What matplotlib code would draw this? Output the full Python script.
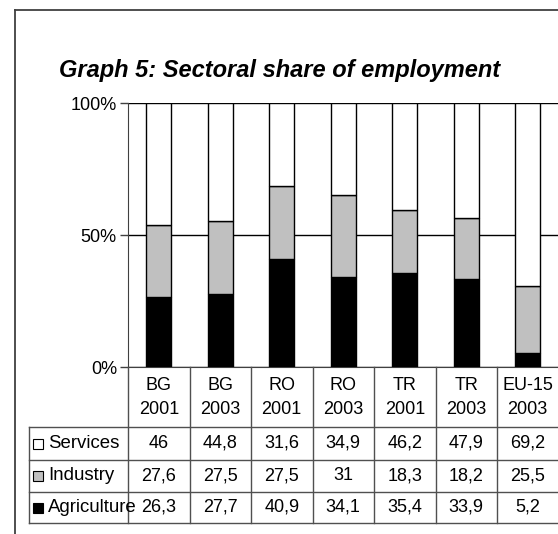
import matplotlib.pyplot as plt
import numpy as np
from matplotlib.patches import Rectangle
from matplotlib.lines import Line2D
from matplotlib.transforms import blended_transform_factory

plt.rcParams['font.family'] = ['Liberation Sans', 'DejaVu Sans']

# data table values
countries = ['BG', 'BG', 'RO', 'RO', 'TR', 'TR', 'EU-15']
years = ['2001', '2003', '2001', '2003', '2001', '2003', '2003']
series = ['Services', 'Industry', 'Agriculture']
services = [46, 44.8, 31.6, 34.9, 46.2, 47.9, 69.2]
industry = [27.6, 27.5, 27.5, 31, 18.3, 18.2, 25.5]
agriculture = [26.3, 27.7, 40.9, 34.1, 35.4, 33.9, 5.2]
# bar heights as drawn (TR bars differ from the table in the original)
bar_agriculture = [26.3, 27.7, 40.9, 34.1, 35.7, 33.2, 5.2]
bar_industry = [27.6, 27.5, 27.5, 31, 23.8, 23.4, 25.5]
bar_services = [46, 44.8, 31.6, 34.9, 40.5, 43.4, 69.2]
colors = {'Services': 'white', 'Industry': '#c0c0c0', 'Agriculture': 'black'}

W, H = 558, 534
fig = plt.figure(figsize=(W / 100, H / 100), dpi=100)


def fx(x):
    return x / W


def fy(y):
    return 1 - y / H


# outer frame
fig.add_artist(Line2D([fx(15), fx(15)], [fy(10), fy(540)], color='#404040', lw=1.3))
fig.add_artist(Line2D([fx(15), fx(560)], [fy(10), fy(10)], color='#404040', lw=1.3))

fig.text(fx(280), fy(70), 'Graph 5: Sectoral share of employment', ha='center', va='center',
         fontsize=17, fontweight='bold', fontstyle='italic')

ax = fig.add_axes([fx(128), fy(367), fx(558.5) - fx(128), fy(103) - fy(367)])

tot = np.array(bar_services) + np.array(bar_industry) + np.array(bar_agriculture)
agr = np.array(bar_agriculture) / tot * 100
ind = np.array(bar_industry) / tot * 100
srv = np.array(bar_services) / tot * 100
x = np.arange(len(countries))
bw = 0.41
ax.bar(x, agr, bw, color=colors['Agriculture'], edgecolor='black', lw=1, zorder=3)
ax.bar(x, ind, bw, bottom=agr, color=colors['Industry'], edgecolor='black', lw=1, zorder=3)
ax.bar(x, srv, bw, bottom=agr + ind, color=colors['Services'], edgecolor='black', lw=1, zorder=3)

ax.set_xlim(-0.5, len(countries) - 0.5)
ax.set_ylim(0, 100)
ax.set_yticks([0, 50, 100])
ax.set_yticklabels(['0%', '50%', '100%'])
ax.yaxis.grid(True, color='black', lw=1)
ax.set_axisbelow(True)
ax.tick_params(axis='y', length=6, width=1, color='#404040', labelsize=13, pad=2)
ax.tick_params(axis='x', length=0, labelbottom=False)
ax.spines['top'].set_visible(False)
ax.spines['left'].set_color('#404040')
ax.spines['bottom'].set_color('#404040')
ax.spines['right'].set_color('#808080')

# data table under the chart
tr = blended_transform_factory(ax.transData, fig.transFigure)
lc = '#505050'
row_edges = [427, 460, 492, 523]
for b in np.arange(len(countries) + 1) - 0.5:
    fig.add_artist(Line2D([b, b], [fy(367), fy(523)], transform=tr, color=lc, lw=1))
for ry in row_edges:
    fig.add_artist(Line2D([fx(29), fx(560)], [fy(ry), fy(ry)], color=lc, lw=1))
fig.add_artist(Line2D([fx(29), fx(29)], [fy(427), fy(523)], color=lc, lw=1))

for i in range(len(countries)):
    fig.text(i, fy(386), countries[i], transform=tr, ha='center', va='center', fontsize=13)
    fig.text(i, fy(409), years[i], transform=tr, ha='center', va='center', fontsize=13)

rows = [services, industry, agriculture]
for r, (name, vals) in enumerate(zip(series, rows)):
    cy = (row_edges[r] + row_edges[r + 1]) / 2
    fig.add_artist(Rectangle((fx(33), fy(cy + 5)), fx(10), fy(0) - fy(10),
                             facecolor=colors[name], edgecolor='black', lw=0.8))
    fig.text(fx(48), fy(cy), name, ha='left', va='center', fontsize=13.4)
    for i, v in enumerate(vals):
        fig.text(i, fy(cy), f'{v:g}'.replace('.', ','), transform=tr,
                 ha='center', va='center', fontsize=13)

fig.savefig('out.png', dpi=100)
